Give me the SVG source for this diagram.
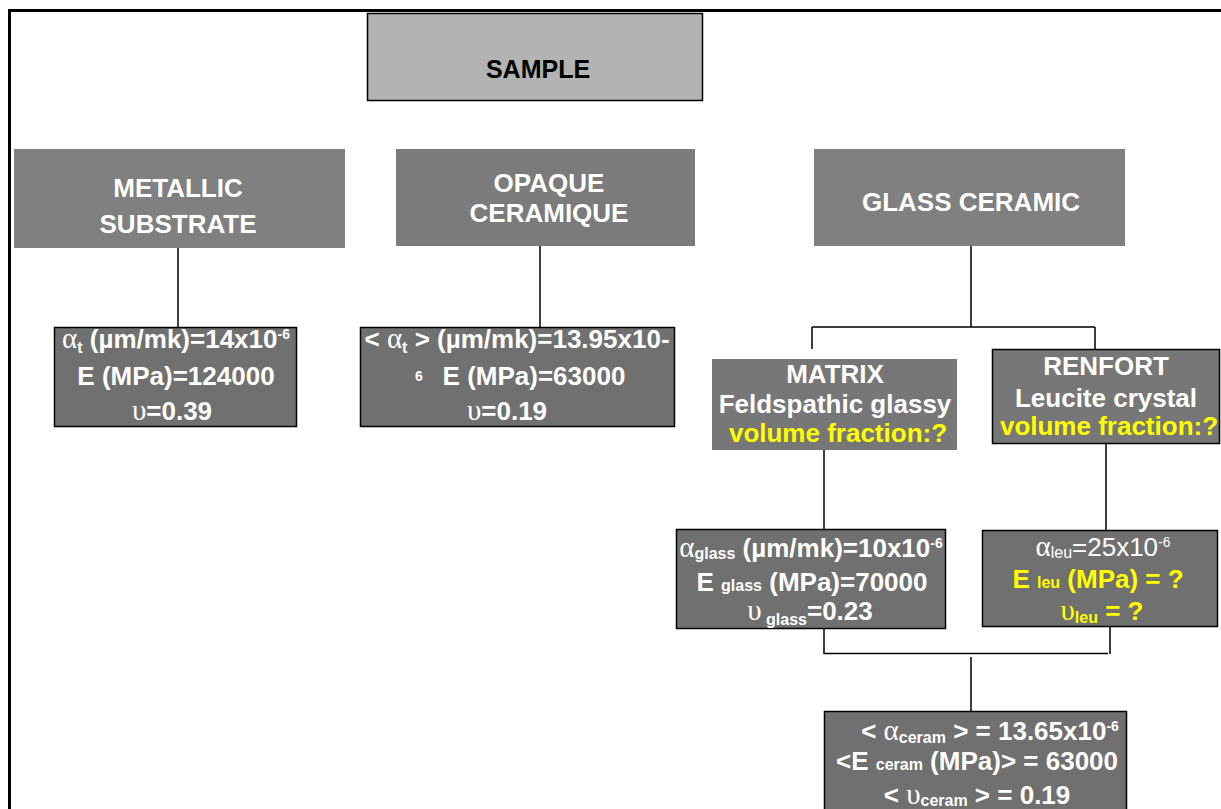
<svg xmlns="http://www.w3.org/2000/svg" width="1221" height="809" viewBox="0 0 1221 809">
<style>
text{font-family:"Liberation Sans",Arial,sans-serif;font-weight:bold;font-size:26px;fill:#ffffff;text-anchor:middle}
.hdr{fill:#808080}
.prop{fill:#707070;stroke:#000;stroke-width:1.5}
.sub{font-size:16px}
.sup{font-size:14px}
.gr{font-family:"Liberation Serif","DejaVu Serif",serif;font-weight:normal;font-size:29px}
.y{fill:#ffff00}
.n{font-weight:normal}
.line{fill:none;stroke:#000;stroke-width:1.5}
</style>
<rect width="1221" height="809" fill="#ffffff"/>
<path d="M9.5,809 V10.5 H1221" fill="none" stroke="#000" stroke-width="3"/>
<g id="connectors">
<path class="line" d="M178,248 V327"/>
<path class="line" d="M540,246 V327"/>
<path class="line" d="M971,246 V327 M812,327 H1095 M812,327 V349 M1095,327 V349"/>
<path class="line" d="M824,450 V529"/>
<path class="line" d="M1106,444 V530"/>
<path class="line" d="M824,629 V653.5 H1108 M1110,627 V654"/>
<path class="line" d="M971,657 V711"/>
</g>
<g id="sample">
<rect x="367.5" y="13.5" width="335" height="87" fill="#b3b3b3" stroke="#000" stroke-width="1.5"/>
<text x="538" y="78" style="fill:#000;font-size:25px">SAMPLE</text>
</g>
<g id="metallic">
<rect class="hdr" x="14" y="149" width="331" height="99"/>
<text x="178" y="197">METALLIC</text>
<text x="178" y="233">SUBSTRATE</text>
</g>
<g id="opaque">
<rect class="hdr" x="396" y="149" width="299" height="97" style="fill:#7b7b7b"/>
<text x="549" y="192">OPAQUE</text>
<text x="549" y="222">CERAMIQUE</text>
</g>
<g id="glassceramic">
<rect class="hdr" x="814" y="149" width="311" height="97"/>
<text x="971" y="211">GLASS CERAMIC</text>
</g>
<g id="metallic-props">
<rect class="prop" x="54.5" y="327.5" width="242" height="99"/>
<text x="176" y="348"><tspan class="gr">α</tspan><tspan class="sub" dy="5">t</tspan><tspan dy="-5"> (µm/mk)=14x10</tspan><tspan class="sup" dy="-9">-6</tspan></text>
<text x="176" y="385">E (MPa)=124000</text>
<text x="172" y="420"><tspan class="gr">υ</tspan>=0.39</text>
</g>
<g id="opaque-props">
<rect class="prop" x="360.5" y="327.5" width="314" height="99"/>
<text x="517" y="348">&lt; <tspan class="gr">α</tspan><tspan class="sub" dy="5">t</tspan><tspan dy="-5"> &gt; (µm/mk)=13.95x10-</tspan></text>
<text x="419" y="381" class="sup">6</text>
<text x="534" y="385">E (MPa)=63000</text>
<text x="507" y="420"><tspan class="gr">υ</tspan>=0.19</text>
</g>
<g id="matrix">
<rect class="hdr" x="712" y="359" width="245" height="91" style="fill:#777777"/>
<text x="835" y="383">MATRIX</text>
<text x="835" y="413">Feldspathic glassy</text>
<text x="838" y="442" class="y">volume fraction:?</text>
</g>
<g id="renfort">
<rect class="prop" x="992.5" y="349.5" width="227" height="94" style="fill:#777777"/>
<text x="1106" y="375">RENFORT</text>
<text x="1106" y="407">Leucite crystal</text>
<text x="1109" y="435" class="y">volume fraction:?</text>
</g>
<g id="glass-props">
<rect class="prop" x="676.5" y="529.5" width="269" height="99"/>
<text x="811" y="557"><tspan class="gr">α</tspan><tspan class="sub" dy="2">glass</tspan><tspan dy="-2"> (µm/mk)=10x10</tspan><tspan class="sup" dy="-9">-6</tspan></text>
<text x="812" y="591">E <tspan class="sub">glass</tspan> (MPa)=70000</text>
<text x="810" y="620"><tspan class="gr">υ</tspan><tspan class="sub" dy="5"> glass</tspan><tspan dy="-5">=0.23</tspan></text>
</g>
<g id="leu-props">
<rect class="prop" x="982.5" y="530.5" width="235" height="96"/>
<text x="1103" y="556" class="n"><tspan class="gr">α</tspan><tspan class="sub n" dy="2">leu</tspan><tspan dy="-2">=25x10</tspan><tspan class="sup n" dy="-9">-6</tspan></text>
<text x="1098" y="588" class="y">E <tspan class="sub">leu</tspan> (MPa) = ?</text>
<text x="1102" y="620" class="y"><tspan class="gr">υ</tspan><tspan class="sub" dy="3">leu</tspan><tspan dy="-3"> = ?</tspan></text>
</g>
<g id="ceram-props">
<rect class="prop" x="824.5" y="711.5" width="302" height="110"/>
<text x="990" y="740">&lt; <tspan class="gr">α</tspan><tspan class="sub" dy="3">ceram</tspan><tspan dy="-3"> &gt; = 13.65x10</tspan><tspan class="sup" dy="-9">-6</tspan></text>
<text x="977" y="770">&lt;E <tspan class="sub">ceram</tspan>  (MPa)&gt; = 63000</text>
<text x="977" y="804">&lt; <tspan class="gr">υ</tspan><tspan class="sub" dy="2">ceram</tspan><tspan dy="-2"> &gt; = 0.19</tspan></text>
</g>
</svg>
